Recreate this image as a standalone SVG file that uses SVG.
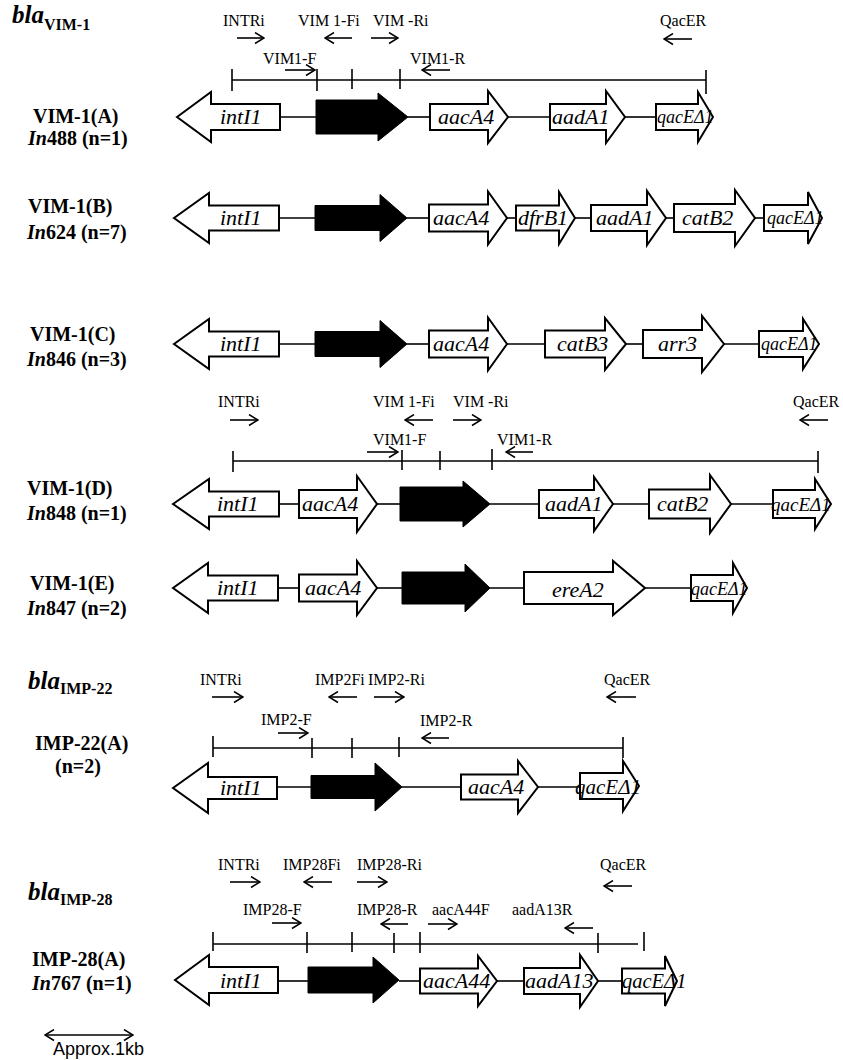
<svg xmlns="http://www.w3.org/2000/svg" width="843" height="1060" viewBox="0 0 843 1060">
<defs>
<marker id="ah" viewBox="0 0 11 13" markerWidth="11" markerHeight="13" refX="10" refY="6.5" orient="auto" markerUnits="userSpaceOnUse">
<path d="M1,1 L10,6.5 L1,12" fill="none" stroke="#000" stroke-width="1.5"/>
</marker>
<marker id="ah2" viewBox="0 0 11 13" markerWidth="11" markerHeight="13" refX="10" refY="6.5" orient="auto-start-reverse" markerUnits="userSpaceOnUse">
<path d="M1,1 L10,6.5 L1,12" fill="none" stroke="#000" stroke-width="1.5"/>
</marker>
</defs>
<style>
.gene{fill:#fff;stroke:#000;stroke-width:2}
.blk{fill:#000;stroke:#000;stroke-width:1}
.bb{stroke:#000;stroke-width:1.6}
.tk{stroke:#000;stroke-width:1.6}
.pa{stroke:#000;stroke-width:1.6;marker-end:url(#ah)}
.gl{font-family:"Liberation Serif",serif;font-style:italic;font-size:22px;fill:#000}
.gs{font-size:18px}
.pl{font-family:"Liberation Serif",serif;font-size:16px;fill:#000}
.lab{font-family:"Liberation Serif",serif;font-weight:bold;font-size:20px;fill:#000}
.ttl{font-family:"Liberation Serif",serif;font-weight:bold;font-style:italic;font-size:25px;fill:#000}
.sub{font-style:normal;font-size:16px}
.it{font-style:italic}
</style>
<rect width="843" height="1060" fill="#fff"/>

<!-- titles and row labels -->
<g id="titles">
<text class="ttl" x="12" y="23">bla<tspan class="sub" dy="7">VIM-1</tspan></text>
<text class="ttl" x="28" y="689">bla<tspan class="sub" dy="5">IMP-22</tspan></text>
<text class="ttl" x="28" y="900">bla<tspan class="sub" dy="5">IMP-28</tspan></text>
</g>
<g id="row-labels">
<text class="lab" x="33" y="123">VIM-1(A)</text>
<text class="lab" x="28" y="145"><tspan class="it">In</tspan>488<tspan dx="5">(n=1)</tspan></text>
<text class="lab" x="28" y="213">VIM-1(B)</text>
<text class="lab" x="27" y="239"><tspan class="it">In</tspan>624<tspan dx="5">(n=7)</tspan></text>
<text class="lab" x="30" y="341">VIM-1(C)</text>
<text class="lab" x="27" y="366"><tspan class="it">In</tspan>846<tspan dx="5">(n=3)</tspan></text>
<text class="lab" x="27" y="495">VIM-1(D)</text>
<text class="lab" x="27" y="520"><tspan class="it">In</tspan>848<tspan dx="5">(n=1)</tspan></text>
<text class="lab" x="30" y="590">VIM-1(E)</text>
<text class="lab" x="27" y="615"><tspan class="it">In</tspan>847 (n=2)</text>
<text class="lab" x="35" y="750">IMP-22(A)</text>
<text class="lab" x="55" y="773">(n=2)</text>
<text class="lab" x="32" y="966">IMP-28(A)</text>
<text class="lab" x="32" y="990"><tspan class="it">In</tspan>767 (n=1)</text>
</g>

<!-- backbone connectors -->
<g id="connectors">
<line class="bb" x1="280" y1="117" x2="316" y2="117"/><line class="bb" x1="408" y1="117" x2="430" y2="117"/><line class="bb" x1="508" y1="117" x2="550" y2="117"/><line class="bb" x1="625" y1="117" x2="656" y2="117"/>
<line class="bb" x1="279" y1="218" x2="315" y2="218"/><line class="bb" x1="407" y1="218" x2="429" y2="218"/><line class="bb" x1="507" y1="218" x2="516" y2="218"/><line class="bb" x1="575" y1="218" x2="591" y2="218"/><line class="bb" x1="666" y1="218" x2="674" y2="218"/><line class="bb" x1="755" y1="218" x2="764" y2="218"/>
<line class="bb" x1="279" y1="344" x2="315" y2="344"/><line class="bb" x1="407" y1="344" x2="429" y2="344"/><line class="bb" x1="507" y1="344" x2="545" y2="344"/><line class="bb" x1="626" y1="344" x2="643" y2="344"/><line class="bb" x1="724" y1="344" x2="759" y2="344"/>
<line class="bb" x1="279" y1="504" x2="299" y2="504"/><line class="bb" x1="377" y1="504" x2="400" y2="504"/><line class="bb" x1="490" y1="504" x2="539" y2="504"/><line class="bb" x1="613" y1="504" x2="649" y2="504"/><line class="bb" x1="731" y1="504" x2="773" y2="504"/>
<line class="bb" x1="278" y1="588" x2="299" y2="588"/><line class="bb" x1="377" y1="588" x2="402" y2="588"/><line class="bb" x1="490" y1="588" x2="524" y2="588"/><line class="bb" x1="645" y1="588" x2="691" y2="588"/>
<line class="bb" x1="277" y1="787" x2="311" y2="787"/><line class="bb" x1="402" y1="787" x2="461" y2="787"/><line class="bb" x1="538" y1="787" x2="580" y2="787"/>
<line class="bb" x1="278" y1="981" x2="308" y2="981"/><line class="bb" x1="399" y1="981" x2="420" y2="981"/><line class="bb" x1="497" y1="981" x2="524" y2="981"/><line class="bb" x1="598" y1="981" x2="622" y2="981"/>
</g>

<!-- amplicon scale lines -->
<g id="scales">
<line class="tk" x1="232" y1="80" x2="706" y2="80"/>
<line class="tk" x1="232" y1="69" x2="232" y2="91"/><line class="tk" x1="317" y1="69" x2="317" y2="91"/><line class="tk" x1="352" y1="69" x2="352" y2="89"/><line class="tk" x1="400" y1="69" x2="400" y2="89"/><line class="tk" x1="706" y1="70" x2="706" y2="94"/>
<line class="tk" x1="233" y1="461" x2="818" y2="461"/>
<line class="tk" x1="233" y1="451" x2="233" y2="472"/><line class="tk" x1="402" y1="450" x2="402" y2="470"/><line class="tk" x1="440" y1="451" x2="440" y2="470"/><line class="tk" x1="492" y1="449" x2="492" y2="470"/><line class="tk" x1="818" y1="451" x2="818" y2="473"/>
<line class="tk" x1="213" y1="748" x2="623" y2="748"/>
<line class="tk" x1="213" y1="736" x2="213" y2="757"/><line class="tk" x1="312" y1="738" x2="312" y2="758"/><line class="tk" x1="352" y1="738" x2="352" y2="758"/><line class="tk" x1="399" y1="737" x2="399" y2="757"/><line class="tk" x1="623" y1="737" x2="623" y2="758"/>
<line class="tk" x1="213" y1="944" x2="638" y2="944"/>
<line class="tk" x1="213" y1="932" x2="213" y2="951"/><line class="tk" x1="307" y1="932" x2="307" y2="953"/><line class="tk" x1="352" y1="932" x2="352" y2="952"/><line class="tk" x1="394" y1="933" x2="394" y2="953"/><line class="tk" x1="420" y1="932" x2="420" y2="953"/><line class="tk" x1="598" y1="933" x2="598" y2="953"/><line class="tk" x1="644" y1="932" x2="644" y2="951"/>
</g>

<!-- primers -->
<g id="primers">
<text class="pl" x="223" y="26">INTRi</text><line class="pa" x1="237" y1="38" x2="264" y2="38"/>
<text class="pl" x="298" y="26">VIM 1-Fi</text><line class="pa" x1="352" y1="38" x2="325" y2="38"/>
<text class="pl" x="373" y="26">VIM -Ri</text><line class="pa" x1="371" y1="38" x2="398" y2="38"/>
<text class="pl" x="660" y="26">QacER</text><line class="pa" x1="692" y1="39" x2="664" y2="39"/>
<text class="pl" x="263" y="64">VIM1-F</text><line class="pa" x1="285" y1="70" x2="315" y2="70"/>
<text class="pl" x="410" y="64">VIM1-R</text><line class="pa" x1="450" y1="70" x2="422" y2="70"/>

<text class="pl" x="218" y="407">INTRi</text><line class="pa" x1="230" y1="420" x2="258" y2="420"/>
<text class="pl" x="373" y="407">VIM 1-Fi</text><line class="pa" x1="433" y1="420" x2="405" y2="420"/>
<text class="pl" x="453" y="407">VIM -Ri</text><line class="pa" x1="453" y1="420" x2="481" y2="420"/>
<text class="pl" x="793" y="407">QacER</text><line class="pa" x1="828" y1="420" x2="800" y2="420"/>
<text class="pl" x="373" y="445">VIM1-F</text><line class="pa" x1="367" y1="452" x2="398" y2="452"/>
<text class="pl" x="497" y="445">VIM1-R</text><line class="pa" x1="533" y1="452" x2="506" y2="452"/>

<text class="pl" x="200" y="685">INTRi</text><line class="pa" x1="212" y1="697" x2="243" y2="697"/>
<text class="pl" x="315" y="685">IMP2Fi</text><line class="pa" x1="357" y1="697" x2="329" y2="697"/>
<text class="pl" x="368" y="685">IMP2-Ri</text><line class="pa" x1="374" y1="697" x2="404" y2="697"/>
<text class="pl" x="604" y="685">QacER</text><line class="pa" x1="636" y1="697" x2="607" y2="697"/>
<text class="pl" x="261" y="725">IMP2-F</text><line class="pa" x1="278" y1="733" x2="308" y2="733"/>
<text class="pl" x="420" y="726">IMP2-R</text><line class="pa" x1="449" y1="738" x2="422" y2="738"/>

<text class="pl" x="218" y="870">INTRi</text><line class="pa" x1="230" y1="882" x2="260" y2="882"/>
<text class="pl" x="283" y="870">IMP28Fi</text><line class="pa" x1="332" y1="882" x2="304" y2="882"/>
<text class="pl" x="357" y="870">IMP28-Ri</text><line class="pa" x1="357" y1="882" x2="387" y2="882"/>
<text class="pl" x="600" y="870">QacER</text><line class="pa" x1="632" y1="886" x2="604" y2="886"/>
<text class="pl" x="243" y="915">IMP28-F</text><line class="pa" x1="272" y1="923" x2="301" y2="923"/>
<text class="pl" x="357" y="915">IMP28-R</text><line class="pa" x1="408" y1="924" x2="381" y2="924"/>
<text class="pl" x="432" y="915">aacA44F</text><line class="pa" x1="428" y1="924" x2="457" y2="924"/>
<text class="pl" x="512" y="915">aadA13R</text><line class="pa" x1="593" y1="928" x2="565" y2="928"/>
</g>

<!-- Row A -->
<g id="A-intI1"><polygon class="gene" points="177,117 211,92 211,104 280,104 280,130 211,130 211,142"/><text class="gl" x="220" y="124">intI1</text></g>
<g id="A-vim1"><polygon class="blk" points="316,100 378,100 378,93 408,117 378,141 378,134 316,134"/></g>
<g id="A-aacA4"><polygon class="gene" points="430,104 488,104 488,91 508,117 488,143 488,130 430,130"/><text class="gl" x="438" y="124">aacA4</text></g>
<g id="A-aadA1"><polygon class="gene" points="550,104 606,104 606,91 625,117 606,143 606,130 550,130"/><text class="gl" x="552" y="124">aadA1</text></g>
<g id="A-qacE"><polygon class="gene" points="656,104 698,104 698,92 713,117 698,142 698,130 656,130"/><text class="gl gs" x="657" y="123">qacEΔ1</text></g>

<!-- Row B -->
<g id="B-intI1"><polygon class="gene" points="174,218 209,193 209,205.5 279,205.5 279,230.5 209,230.5 209,243"/><text class="gl" x="220" y="225">intI1</text></g>
<g id="B-vim1"><polygon class="blk" points="315,205.5 380,205.5 380,194.5 407,218 380,241.5 380,230.5 315,230.5"/></g>
<g id="B-aacA4"><polygon class="gene" points="429,204.5 488,204.5 488,191.5 507,218 488,244.5 488,231.5 429,231.5"/><text class="gl" x="433" y="225">aacA4</text></g>
<g id="B-dfrB1"><polygon class="gene" points="516,205.5 559,205.5 559,192 575,218 559,244 559,230.5 516,230.5"/><text class="gl" x="518" y="225">dfrB1</text></g>
<g id="B-aadA1"><polygon class="gene" points="591,205 647,205 647,191 666,218 647,245 647,231 591,231"/><text class="gl" x="596" y="225">aadA1</text></g>
<g id="B-catB2"><polygon class="gene" points="674,204 735,204 735,190 755,218 735,246 735,232 674,232"/><text class="gl" x="682" y="225">catB2</text></g>
<g id="B-qacE"><polygon class="gene" points="764,205 808,205 808,192 822,218 808,244 808,231 764,231"/><text class="gl gs" x="767" y="224">qacEΔ1</text></g>

<!-- Row C -->
<g id="C-intI1"><polygon class="gene" points="174,344 209,319 209,331.5 279,331.5 279,356.5 209,356.5 209,369"/><text class="gl" x="220" y="351">intI1</text></g>
<g id="C-vim1"><polygon class="blk" points="315,331.5 380,331.5 380,320.5 407,344 380,367.5 380,356.5 315,356.5"/></g>
<g id="C-aacA4"><polygon class="gene" points="429,330.5 488,330.5 488,317.5 507,344 488,370.5 488,357.5 429,357.5"/><text class="gl" x="433" y="351">aacA4</text></g>
<g id="C-catB3"><polygon class="gene" points="545,330.5 605,330.5 605,318 626,344 605,370 605,357.5 545,357.5"/><text class="gl" x="557" y="351">catB3</text></g>
<g id="C-arr3"><polygon class="gene" points="643,330 702,330 702,316 724,344 702,372 702,358 643,358"/><text class="gl" x="658" y="351">arr3</text></g>
<g id="C-qacE"><polygon class="gene" points="759,331 803,331 803,319 819,344 803,369 803,357 759,357"/><text class="gl gs" x="761" y="350">qacEΔ1</text></g>

<!-- Row D -->
<g id="D-intI1"><polygon class="gene" points="173,504 209,479 209,491.5 279,491.5 279,516.5 209,516.5 209,529"/><text class="gl" x="217" y="511">intI1</text></g>
<g id="D-aacA4"><polygon class="gene" points="299,490 357,490 357,476 377,504 357,532 357,518 299,518"/><text class="gl" x="302" y="511">aacA4</text></g>
<g id="D-vim1"><polygon class="blk" points="400,487 463,487 463,481 490,504 463,527 463,521 400,521"/></g>
<g id="D-aadA1"><polygon class="gene" points="539,490 594,490 594,477 613,504 594,531 594,518 539,518"/><text class="gl" x="545" y="511">aadA1</text></g>
<g id="D-catB2"><polygon class="gene" points="649,489.5 710,489.5 710,475 731,504 710,533 710,518.5 649,518.5"/><text class="gl" x="657" y="511">catB2</text></g>
<g id="D-qacE"><polygon class="gene" points="773,490 815,490 815,479 831,504 815,529 815,518 773,518"/><text class="gl" style="font-size:19px" x="771" y="511">qacEΔ1</text></g>

<!-- Row E -->
<g id="E-intI1"><polygon class="gene" points="173,588 208,563 208,575.5 278,575.5 278,600.5 208,600.5 208,613"/><text class="gl" x="217" y="595">intI1</text></g>
<g id="E-aacA4"><polygon class="gene" points="299,574.5 357,574.5 357,561 377,588 357,615 357,601.5 299,601.5"/><text class="gl" x="305" y="595">aacA4</text></g>
<g id="E-vim1"><polygon class="blk" points="402,572 465,572 465,564 490,588 465,612 465,604 402,604"/></g>
<g id="E-ereA2"><polygon class="gene" points="524,572 613,572 613,561 645,588 613,615 613,604 524,604"/><text class="gl" x="552" y="597">ereA2</text></g>
<g id="E-qacE"><polygon class="gene" points="691,575 733,575 733,563 747,588 733,613 733,601 691,601"/><text class="gl gs" x="691" y="595">qacEΔ1</text></g>

<!-- IMP-22 -->
<g id="I22-intI1"><polygon class="gene" points="173,788 208,763 208,777 277,777 277,799 208,799 208,813"/><text class="gl" x="220" y="795">intI1</text></g>
<g id="I22-imp22"><polygon class="blk" points="311,775.5 375,775.5 375,763 402,787 375,811 375,798.5 311,798.5"/></g>
<g id="I22-aacA4"><polygon class="gene" points="461,774.5 518,774.5 518,761 538,787 518,813 518,799.5 461,799.5"/><text class="gl" x="468" y="794">aacA4</text></g>
<g id="I22-qacE"><polygon class="gene" points="580,773 623,773 623,761 639,786 623,811 623,799 580,799"/><text class="gl" style="font-size:21px" x="575" y="794">qacEΔ1</text></g>

<!-- IMP-28 -->
<g id="I28-intI1"><polygon class="gene" points="175,980 209,955 209,967 278,967 278,993 209,993 209,1005"/><text class="gl" x="220" y="988">intI1</text></g>
<g id="I28-imp28"><polygon class="blk" points="308,967 373,967 373,957 399,980 373,1003 373,993 308,993"/></g>
<g id="I28-aacA44"><polygon class="gene" points="420,968.5 478,968.5 478,956 497,981 478,1006 478,993.5 420,993.5"/><text class="gl" x="423" y="988">aacA44</text></g>
<g id="I28-aadA13"><polygon class="gene" points="524,968 580,968 580,955 598,981 580,1007 580,994 524,994"/><text class="gl" x="525" y="988">aadA13</text></g>
<g id="I28-qacE"><polygon class="gene" points="622,968.5 665,968.5 665,956 677,981 665,1006 665,993.5 622,993.5"/><text class="gl" style="font-size:20.5px" x="622" y="988">qacEΔ1</text></g>

<!-- scale bar -->
<g id="scalebar">
<line x1="45" y1="1035" x2="133" y2="1035" stroke="#000" stroke-width="1.6" marker-start="url(#ah2)" marker-end="url(#ah2)"/>
<text x="53" y="1055" font-family="Liberation Sans, Arial, sans-serif" font-size="18" fill="#000">Approx.1kb</text>
</g>
</svg>
